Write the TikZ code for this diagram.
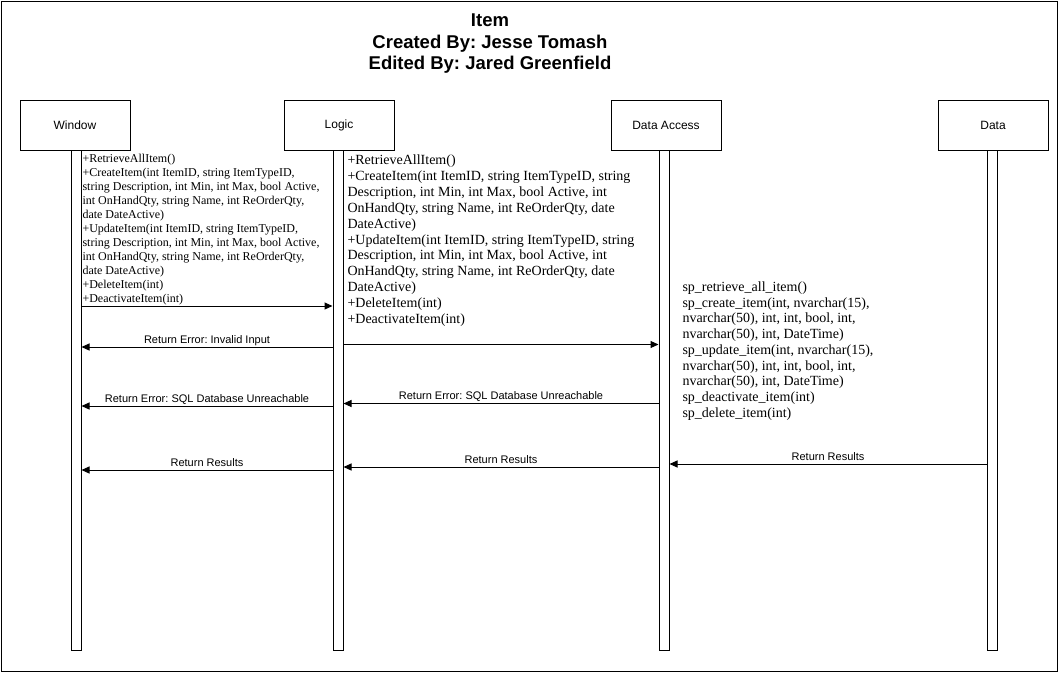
\documentclass[tikz,border=0pt]{standalone}
\usepackage{fontspec}
\setmainfont{Liberation Sans}
\newfontfamily\serifx{Liberation Serif}
\usetikzlibrary{arrows.meta}
\frenchspacing
\begin{document}
\begin{tikzpicture}[x=1pt,y=-1pt,line width=1pt,
  lifebox/.style={draw,minimum width=110pt,minimum height=50pt,inner sep=0pt,font=\fontsize{12}{14}\selectfont},
  bar/.style={draw,fill=white,minimum width=10pt,minimum height=500pt,inner sep=0pt,anchor=north},
  msg/.style={-{Triangle[length=8pt,width=7pt]}},
  lbl/.style={font=\fontsize{11}{13}\selectfont,inner sep=0pt,anchor=base,yshift=4pt},
  ops/.style={anchor=north west,inner sep=0pt,align=left},
  titlex/.style={font=\fontsize{18.5}{21.5}\selectfont\bfseries,align=center,inner sep=0pt,anchor=base}]
\useasboundingbox (0,0) rectangle (1062,672);
\draw (1,1.5) rectangle (1057,671);
\node[titlex] (title) at (490,69.5) {Item\\Created By: Jesse Tomash\\Edited By: Jared Greenfield};
% lifeline heads
\node[lifebox] (wbox) at (75,125) {Window};
\node[lifebox] (lbox) at (339,125) {Logic};
\node[lifebox] (abox) at (666,125) {Data Access};
\node[lifebox] (dbox) at (993,125) {Data};
% activation bars
\node[bar] (wbar) at (76,150) {};
\node[bar] (lbar) at (338,150) {};
\node[bar] (abar) at (664,150) {};
\node[bar] (dbar) at (992,150) {};
% operation texts
\node[ops,font=\serifx\fontsize{12}{14}\selectfont] (wops) at (82,153.7) {+RetrieveAllItem()\\
+CreateItem(int ItemID, string ItemTypeID,\\
string Description, int Min, int Max, bool Active,\\
int OnHandQty, string Name, int ReOrderQty,\\
date DateActive)\\
+UpdateItem(int ItemID, string ItemTypeID,\\
string Description, int Min, int Max, bool Active,\\
int OnHandQty, string Name, int ReOrderQty,\\
date DateActive)\\
+DeleteItem(int)\\
+DeactivateItem(int)};
\node[ops,font=\serifx\fontsize{14}{15.9}\selectfont] (lops) at (347,154.3) {+RetrieveAllItem()\\
+CreateItem(int ItemID, string ItemTypeID, string\\
Description, int Min, int Max, bool Active, int\\
OnHandQty, string Name, int ReOrderQty, date\\
DateActive)\\
+UpdateItem(int ItemID, string ItemTypeID, string\\
Description, int Min, int Max, bool Active, int\\
OnHandQty, string Name, int ReOrderQty, date\\
DateActive)\\
+DeleteItem(int)\\
+DeactivateItem(int)};
\node[ops,font=\serifx\fontsize{14}{15.7}\selectfont] (aops) at (682,281.3) {sp\_retrieve\_all\_item()\\
sp\_create\_item(int, nvarchar(15),\\
nvarchar(50), int, int, bool, int,\\
nvarchar(50), int, DateTime)\\
sp\_update\_item(int, nvarchar(15),\\
nvarchar(50), int, int, bool, int,\\
nvarchar(50), int, DateTime)\\
sp\_deactivate\_item(int)\\
sp\_delete\_item(int)};
% messages
\draw[msg] (wbar.east |- 0,306) -- (lbar.west |- 0,306);
\draw[msg] (lbar.east |- 0,344.5) -- (abar.west |- 0,344.5);
\draw[msg] (lbar.west |- 0,347) -- node[lbl,midway] (m3) {Return Error: Invalid Input} (wbar.east |- 0,347);
\draw[msg] (lbar.west |- 0,406) -- node[lbl,midway] (m4) {Return Error: SQL Database Unreachable} (wbar.east |- 0,406);
\draw[msg] (abar.west |- 0,403.5) -- node[lbl,midway] (m5) {Return Error: SQL Database Unreachable} (lbar.east |- 0,403.5);
\draw[msg] (lbar.west |- 0,470) -- node[lbl,midway] (m6) {Return Results} (wbar.east |- 0,470);
\draw[msg] (abar.west |- 0,467) -- node[lbl,midway] (m7) {Return Results} (lbar.east |- 0,467);
\draw[msg] (dbar.west |- 0,464) -- node[lbl,midway] (m8) {Return Results} (abar.east |- 0,464);
\end{tikzpicture}
\end{document}
